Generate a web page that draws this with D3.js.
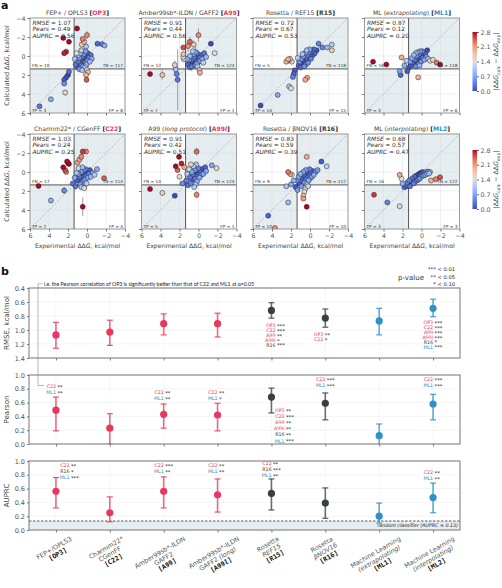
<!DOCTYPE html>
<html><head><meta charset="utf-8">
<script src="https://cdn.jsdelivr.net/npm/d3@7"></script>
<style>body{margin:0;background:#fff}svg{display:block}</style>
</head><body>
<script>
// ---------------- DATA ----------------
const panelCodes  = ["OP3","A99","R15","ML1","C22","A99l","R16","ML2"];
const panelTitles = ["FEP+ / OPLS3","Amber99sb*-ILDN / GAFF2","Rosetta / REF15","ML (_extrapolating_)","Charmm22* / CGenFF","A99 (_long protocol_)","Rosetta / βNOV16","ML (_interpolating_)"];
const panelRMSE  = ["1.07","0.91","0.72","0.87","1.03","0.91","0.83","0.68"];
const panelPears = ["0.49","0.44","0.67","0.12","0.24","0.42","0.59","0.57"];
const panelAUPRC = ["0.56","0.56","0.53","0.20","0.25","0.51","0.39","0.47"];
const panelFN = [10,12,5,16,17,14,9,16];
const panelTN = [117,124,118,118,114,124,112,122];
const panelTP = [3,7,14,3,2,5,10,3];
const panelFP = [8,1,15,6,4,1,10,3];
const scatterTicks = [-4,-2,0,2,4,6];
const threshold = 1.36;

// [experimental ΔΔG, calculated ΔΔG, error]
const ptsOP3 = [[5.0,5.3,0],[3.8,4.55,0],[2.3,3.85,0.3],[2.4,2.9,0],[2.4,2.5,0],[2.2,2.25,0],[2.0,2.0,0],[1.9,1.65,0],
[1.05,-2.9,0.3],[2.5,-1.9,0],[1.9,-1.5,0],[2.2,-0.45,0],[2.4,-0.3,0],[0.0,-2.2,0.4],
[0.45,-1.8,0],[0.3,-1.5,0],[0.55,-1.2,0],[0.1,-1.0,0],[-1.1,-1.3,0],[-1.6,-1.25,0],[-1.85,-1.1,0],
[0.1,2.0,0.2],[0.05,2.5,0.3],[-0.1,1.7,0],[0.0,1.45,0],
[1.2,0.9,0],[1.0,1.2,0],[0.9,0.6,0],[0.8,0.2,0],[0.7,0.9,0],[0.6,0.4,0],[0.5,0.0,0],[0.45,0.7,0],[0.4,1.1,0],[0.35,0.3,0],[0.3,-0.2,0],[0.25,0.6,0],[0.2,0.2,0],[0.15,-0.5,0],[0.1,0.4,0],[0.05,0.9,0],[0.0,0.0,0],[-0.05,0.5,0],[-0.1,-0.3,0],[-0.2,0.2,0],[-0.3,0.6,0],[-0.4,-0.1,0],[1.3,0.3,0],[1.1,-0.3,0],[0.8,1.4,0],[0.6,-0.6,0],[-0.5,0.3,0],[0.9,-0.1,0],[0.2,1.2,0],[0.5,1.5,0],[0.7,-0.3,0],[0.35,0.0,0],[0.15,0.7,0],[-0.15,0.1,0],[0.6,1.0,0]];
const ptsA99 = [[5.1,1.9,0],[3.8,2.0,0.5],[1.6,-0.9,0],[1.1,-1.05,0.6],[0.0,-2.2,0.7],[-1.3,-1.3,0],[-1.7,-0.3,0],
[1.6,-0.2,0],[1.6,0.1,0],[1.55,0.35,0],[2.5,0.95,0.5],[2.4,1.4,0.4],[2.3,1.9,0],[2.2,2.5,3.2],
[-0.1,1.5,0],[-0.15,1.75,0.3],[0.9,-1.5,0.5],[0.5,-1.2,0.4],
[1.1,0.9,0],[1.0,0.4,0.4],[0.9,0.0,0],[0.8,0.7,0],[0.7,1.1,0.5],[0.6,0.3,0],[0.5,-0.2,0],[0.45,0.6,0],[0.4,1.0,0],[0.35,0.2,0],[0.3,-0.4,0.6],[0.25,0.5,0],[0.2,0.1,0],[0.15,0.8,0],[0.1,0.3,0],[0.05,-0.1,0],[0.0,0.6,0],[-0.1,0.2,0],[-0.2,0.5,0],[-0.3,-0.1,0],[-0.4,0.3,0],[-0.6,-0.3,0],[-0.8,0.1,0],[0.9,1.2,0],[1.2,0.3,0],[0.6,-0.5,0],[0.3,0.9,0],[0.1,1.1,0],[-0.5,0.7,0],[0.7,0.5,0],[0.45,0.1,0],[0.15,-0.3,0]];
const ptsR15 = [[5.2,5.2,0],[3.4,4.1,0],[2.2,3.2,0],[2.0,3.4,0],[1.8,2.2,0],[1.7,1.9,0],[1.6,1.5,0],[2.3,0.5,0],[2.1,0.3,0],[1.9,0.6,0],[2.5,0.6,0],[2.3,0.35,0],[0.5,2.5,0],[0.3,2.3,0],[-0.9,-1.3,0],[-2.3,-1.2,0],[-2.3,-0.6,0],[-1.8,-0.9,0],[-1.3,-0.9,0],
[1.2,1.0,0],[1.1,0.6,0],[1.0,1.2,0],[0.9,0.3,0],[0.8,0.8,0],[0.7,0.0,0],[0.6,0.5,0],[0.5,-0.3,0],[0.45,0.9,0],[0.4,0.2,0],[0.35,-0.6,0],[0.3,0.4,0],[0.25,-0.1,0],[0.2,0.7,0],[0.15,-0.4,0],[0.1,0.1,0],[0.05,-0.7,0],[0.0,-0.2,0],[-0.1,0.3,0],[-0.2,-0.5,0],[-0.3,-0.1,0],[-0.4,-0.7,0],[-0.5,-0.3,0],[-0.7,-0.6,0],[0.8,-0.2,0],[0.6,1.1,0],[1.3,0.2,0],[0.0,-0.5,0],[-0.15,0.0,0],[0.4,-0.4,0]];
const ptsML1 = [[5.1,0.6,0],[3.7,0.9,0],[2.1,0.15,0],[2.3,1.6,0],[2.2,2.0,0],[1.3,1.2,0],[1.5,1.6,0],[-0.6,-0.6,0],[-1.6,0.7,0],[-1.95,0.9,0],[0.35,2.25,0],[1.8,1.0,0],[1.6,0.5,0],[-1.2,0.4,0],
[1.2,0.6,0],[1.1,1.0,0],[1.0,0.2,0],[0.9,0.7,0],[0.8,-0.1,0],[0.7,0.4,0],[0.6,1.1,0],[0.5,0.0,0],[0.45,0.5,0],[0.4,-0.4,0],[0.35,0.2,0],[0.3,0.8,0],[0.25,-0.2,0],[0.2,0.3,0],[0.15,-0.5,0],[0.1,0.1,0],[0.05,0.6,0],[0.0,-0.3,0],[-0.1,0.2,0],[-0.2,-0.1,0],[-0.3,0.4,0],[-0.4,-0.2,0],[-0.5,0.1,0],[-0.7,0.3,0],[-0.9,0.5,0],[0.6,-0.3,0],[0.2,1.0,0],[-0.1,-0.5,0],[0.8,0.9,0],[0.3,0.0,0]];
const ptsC22 = [[5.1,1.47,0.2],[3.8,3.0,0.3],[2.4,1.95,0.4],[2.1,-1.1,0.3],[2.0,-0.95,0],[1.9,-0.85,0],[2.5,-0.5,0],[2.3,-0.2,0],[2.2,0.0,0],[0.45,-2.15,0.3],[0.1,-2.15,0],[0.45,3.65,1.0],[-1.8,0.65,0],[-1.05,-0.3,0],[0.6,-1.6,0],[0.8,-1.3,0],[1.0,-1.0,0],
[1.5,1.2,0],[1.3,0.6,0],[1.2,1.5,0.4],[1.1,0.1,0],[1.0,0.9,0],[0.9,-0.4,0],[0.8,0.5,0],[0.7,1.3,0],[0.6,0.0,0],[0.55,0.7,0],[0.5,-0.5,0],[0.45,0.3,0],[0.4,1.0,0],[0.35,-0.2,0],[0.3,0.5,0],[0.25,0.1,0],[0.2,0.8,0],[0.15,-0.3,0],[0.1,0.4,0],[0.05,1.2,0.5],[0.0,0.0,0],[-0.1,0.6,0],[-0.2,0.2,0],[-0.3,-0.2,0],[-0.4,0.5,0],[-0.6,0.1,0],[-0.8,0.3,0],[0.3,1.7,0],[0.6,1.6,0],[0.9,0.2,0]];
const ptsA99l = [[5.1,1.8,0],[3.8,2.2,0.3],[2.5,2.5,0],[2.05,-1.6,0.3],[0.2,-2.15,0.4],[2.4,-0.6,0],[2.2,-0.2,0],[2.0,0.5,0],[1.7,1.2,0],[0.2,2.4,0.4],[-1.4,-0.7,0],[-1.9,-0.4,0],[1.8,-0.9,0],[1.5,-0.5,0],
[1.3,0.9,0],[1.2,0.2,0],[1.1,1.4,0],[1.0,-0.3,0],[0.9,0.6,0],[0.8,1.2,0],[0.7,0.0,0],[0.6,0.8,0],[0.55,-0.6,0],[0.5,0.4,0],[0.45,1.6,0],[0.4,-0.2,0],[0.35,0.7,0],[0.3,0.1,0],[0.25,-0.8,0],[0.2,0.5,0],[0.15,1.0,0],[0.1,-0.1,0],[0.05,0.3,0],[0.0,-0.4,0],[-0.1,0.6,0],[-0.2,0.0,0],[-0.3,0.3,0],[-0.4,-0.3,0],[-0.5,0.2,0],[-0.7,-0.5,0],[-0.8,-0.1,0],[0.8,-0.8,0],[0.3,1.3,0],[0.6,0.3,0]];
const ptsR16 = [[4.4,4.6,0],[3.7,5.9,0],[2.3,3.2,0],[0.35,3.65,0],[2.3,0.0,0],[2.1,0.2,0],[1.9,0.3,0],[0.35,-1.6,0],[-1.2,-1.1,0],[-1.75,-0.6,0],[0.7,2.5,0],[0.7,2.8,0],[2.5,1.5,0],[2.0,1.3,0],[1.7,0.9,0],
[1.5,1.6,0],[1.4,0.9,0],[1.3,1.9,0],[1.2,0.5,0],[1.1,1.2,0],[1.0,0.2,0],[0.9,1.5,0],[0.8,0.7,0],[0.7,0.0,0],[0.6,1.1,0],[0.55,0.4,0],[0.5,1.8,0],[0.45,-0.2,0],[0.4,0.8,0],[0.35,0.3,0],[0.3,1.3,0],[0.25,0.6,0],[0.2,0.0,0],[0.15,0.9,0],[0.1,0.4,0],[0.05,-0.3,0],[0.0,0.7,0],[-0.1,0.1,0],[-0.2,0.5,0],[-0.3,-0.1,0],[-0.4,0.3,0],[-0.6,0.0,0],[-0.8,-0.2,0],[0.6,2.1,0],[0.2,1.5,0]];
const ptsML2 = [[5.0,2.4,0],[3.6,3.2,0],[2.3,3.6,0],[2.3,0.3,0],[2.1,0.7,0],[2.0,1.2,0],[-1.95,0.55,0],[-1.5,0.75,0],[-1.0,0.9,0],[1.8,1.6,0],[1.6,1.5,0],
[1.6,1.4,0],[1.5,1.1,0],[1.4,1.3,0],[1.3,0.9,0],[1.2,1.2,0],[1.1,1.0,0],[1.0,0.7,0],[0.9,1.1,0],[0.8,0.8,0],[0.75,0.5,0],[0.7,1.0,0],[0.6,0.7,0],[0.55,0.4,0],[0.5,0.9,0],[0.45,0.6,0],[0.4,0.3,0],[0.35,0.8,0],[0.3,0.5,0],[0.25,0.2,0],[0.2,0.7,0],[0.15,0.4,0],[0.1,0.1,0],[0.05,0.5,0],[0.0,0.3,0],[-0.1,0.0,0],[-0.2,0.4,0],[-0.3,0.1,0],[-0.4,0.3,0],[-0.5,0.0,0],[-0.6,0.2,0],[-0.7,-0.05,0],[-0.8,0.15,0],[-0.9,0.0,0],[1.2,1.5,0],[0.8,1.2,0]];
const panelPoints = [ptsOP3, ptsA99, ptsR15, ptsML1, ptsC22, ptsA99l, ptsR16, ptsML2];
const colorbarTicks = [0.0,0.7,1.4,2.1,2.8];

// Panel b
const methods = ["OP3","C22","A99","A99l","R15","R16","ML1","ML2"];
const methodLine1 = ["FEP+/OPLS3","Charmm22*","Amber99sb*-ILDN","Amber99sb*-ILDN","Rosetta","Rosetta","Machine Learning","Machine Learning"];
const methodLine2 = ["","CGenFF","GAFF2","GAFF2 _(long)_","_REF15_","_βNOV16_","_(extrapolating)_","_(interpolating)_"];
const rmseVal  = [1.07,1.03,0.91,0.91,0.72,0.83,0.87,0.69];
const rmseLo   = [0.89,0.86,0.77,0.76,0.61,0.70,0.69,0.56];
const rmseHi   = [1.26,1.22,1.07,1.10,0.83,0.96,1.07,0.81];
const pearsVal = [0.49,0.23,0.43,0.42,0.68,0.59,0.12,0.58];
const pearsLo  = [0.19,0.00,0.23,0.19,0.45,0.35,-0.06,0.35];
const pearsHi  = [0.68,0.44,0.58,0.59,0.81,0.74,0.29,0.72];
const auprcVal = [0.56,0.25,0.56,0.51,0.53,0.39,0.20,0.47];
const auprcLo  = [0.32,0.12,0.32,0.26,0.29,0.17,0.10,0.25];
const auprcHi  = [0.76,0.48,0.77,0.74,0.74,0.61,0.39,0.68];
const randomAUPRC = 0.13;
const rmseTicks = [0.4,0.6,0.8,1.0,1.2,1.4];
const unitTicks = [0.0,0.2,0.4,0.6,0.8,1.0];
const sigRMSE = [
 {m:"R15", items:[["OP3","***"],["C22","***"],["A99","**"],["A99l","*"],["R16","***"]]},
 {m:"R16", items:[["OP3","**"],["C22","*"]]},
 {m:"ML2", items:[["OP3","***"],["C22","***"],["A99","***"],["A99l","***"],["R16","*"],["ML1","***"]]}];
const sigPears = [
 {m:"OP3", items:[["C22","**"],["ML1","**"]]},
 {m:"A99", items:[["C22","**"],["ML1","**"]]},
 {m:"A99l", items:[["C22","**"],["ML1","*"]]},
 {m:"R15", items:[["OP3","**"],["C22","***"],["A99","**"],["A99l","**"],["R16","**"],["ML1","***"]]},
 {m:"R16", items:[["C22","***"],["ML1","***"]]},
 {m:"ML2", items:[["C22","***"],["ML1","***"]]}];
const sigAUPRC = [
 {m:"OP3", items:[["C22","**"],["R16","*"],["ML1","***"]]},
 {m:"A99", items:[["C22","***"],["ML1","**"]]},
 {m:"A99l", items:[["C22","**"],["ML1","**"]]},
 {m:"R15", items:[["C22","**"],["R16","***"],["ML1","**"]]},
 {m:"ML2", items:[["C22","**"],["ML1","**"]]}];
const pLegend = [["***","< 0.01"],["**","< 0.05"],["*","< 0.10"]];
const noteText = "i.e. the Pearson correlation of OP3 is significantly better than that of C22 and ML1 at α=0.05";

// ---------------- DRAW ----------------
const W=502,H=588;
const FONT="DejaVu Sans";
const svg=d3.select("body").append("svg").attr("width",W).attr("height",H).style("font-family",FONT);
const colPink="#e8385f", colDark="#394040", colBlue="#2e92c4";
const codeColor=c=>c.startsWith("R1")?colDark:(c.startsWith("ML")?colBlue:colPink);
const shade="#e6edf0";
const cmap=d3.scaleLinear().domain([0,0.35,0.7,1.05,1.4,1.75,2.1,2.45,2.8])
  .range(["#3b4cc0","#5d7ce6","#82a6fb","#aac7fd","#dcdddd","#f5c4ac","#f49a7b","#dc5d4a","#b40426"]).clamp(true);

function addRich(sel, str, baseItalic){ // "_" toggles italic
  const parts=str.split("_");
  parts.forEach((p,k)=>{ if(p.length) sel.append("tspan").text(p).attr("font-style",(k%2===1)!==!!baseItalic?"italic":null); });
}
function addCode(sel, code){
  const c=codeColor(code);
  sel.append("tspan").text("[").attr("fill","#111").attr("font-weight","bold");
  if(code==="A99l"){
    sel.append("tspan").text("A99").attr("fill",c).attr("font-weight","bold");
    sel.append("tspan").text("l").attr("fill",c).attr("font-weight","bold").attr("font-style","italic");
  } else sel.append("tspan").text(code).attr("fill",c).attr("font-weight","bold");
  sel.append("tspan").text("]").attr("fill","#111").attr("font-weight","bold");
}

svg.append("text").attr("x",1).attr("y",9).text("a").attr("font-size",11).attr("font-weight","bold").attr("fill","#111");

const panelLeft=[30,141.5,253,364.5], rowTop=[18,134], S=95;
panelCodes.forEach((code,i)=>{
  const col=i%4,row=Math.floor(i/4);
  const L=panelLeft[col],T=rowTop[row];
  const x=d3.scaleLinear().domain([6,-4]).range([L,L+S]);
  const y=d3.scaleLinear().domain([-4,6]).range([T,T+S]);
  const g=svg.append("g");
  g.append("rect").attr("x",L).attr("y",T).attr("width",S).attr("height",S).attr("fill","#fff");
  g.append("rect").attr("x",x(threshold)).attr("y",y(-4)).attr("width",x(-4)-x(threshold)).attr("height",y(threshold)-y(-4)).attr("fill",shade);
  g.append("rect").attr("x",x(6)).attr("y",y(threshold)).attr("width",x(threshold)-x(6)).attr("height",y(6)-y(threshold)).attr("fill",shade);
  scatterTicks.forEach(t=>{
    g.append("line").attr("x1",x(t)).attr("x2",x(t)).attr("y1",T).attr("y2",T+S).attr("stroke","#d8dcde").attr("stroke-width",0.5);
    g.append("line").attr("y1",y(t)).attr("y2",y(t)).attr("x1",L).attr("x2",L+S).attr("stroke","#d8dcde").attr("stroke-width",0.5);
  });
  g.append("line").attr("x1",x(6)).attr("y1",y(6)).attr("x2",x(-4)).attr("y2",y(-4)).attr("stroke","#999").attr("stroke-width",0.6).attr("stroke-dasharray","2,1.5");
  g.append("line").attr("x1",x(threshold)).attr("x2",x(threshold)).attr("y1",T).attr("y2",T+S).attr("stroke","#555").attr("stroke-width",1);
  g.append("line").attr("y1",y(threshold)).attr("y2",y(threshold)).attr("x1",L).attr("x2",L+S).attr("stroke","#555").attr("stroke-width",1);
  const pts=panelPoints[i].map(p=>({e:p[0],c:p[1],err:p[2],d:Math.abs(p[1]-p[0])})).sort((a,b)=>a.d-b.d);
  const clip="clip"+i;
  svg.append("clipPath").attr("id",clip).append("rect").attr("x",L).attr("y",T).attr("width",S).attr("height",S);
  const pg=g.append("g").attr("clip-path",`url(#${clip})`);
  pg.selectAll("line.err").data(pts.filter(p=>p.err>0)).join("line")
    .attr("x1",p=>x(p.e)).attr("x2",p=>x(p.e)).attr("y1",p=>y(p.c-p.err)).attr("y2",p=>y(p.c+p.err))
    .attr("stroke","#999").attr("stroke-width",1.2).attr("opacity",0.8);
  pg.selectAll("circle").data(pts).join("circle").attr("cx",p=>x(p.e)).attr("cy",p=>y(p.c)).attr("r",2.5)
    .attr("fill",p=>cmap(p.d)).attr("stroke","#222").attr("stroke-width",0.5);
  g.append("rect").attr("x",L).attr("y",T).attr("width",S).attr("height",S).attr("fill","none").attr("stroke","#888").attr("stroke-width",0.8);
  // axes
  const ax=d3.axisBottom(x).tickValues(scatterTicks).tickSize(2.5).tickPadding(2).tickFormat(row===1?d3.format("d"):()=> "");
  const axg=g.append("g").attr("transform",`translate(0,${T+S})`).call(ax);
  const ay=d3.axisLeft(y).tickValues(scatterTicks).tickSize(2.5).tickPadding(2).tickFormat(col===0?d3.format("d"):()=> "");
  const ayg=g.append("g").attr("transform",`translate(${L},0)`).call(ay);
  [axg,ayg].forEach(a=>{a.select(".domain").remove();a.selectAll("line").attr("stroke","#777");a.selectAll("text").attr("fill","#555").attr("font-size",6.3).attr("font-family",FONT);});
  // title
  const tt=g.append("text").attr("x",L+S/2).attr("y",T-3.5).attr("text-anchor","middle").attr("font-size",6.1).attr("fill","#444");
  addRich(tt,panelTitles[i]); tt.append("tspan").text("  "); addCode(tt,code);
  // stats
  const st=[["RMSE",panelRMSE[i]],["Pears",panelPears[i]],["AUPRC",panelAUPRC[i]]];
  st.forEach((s,k)=>{
    const t=g.append("text").attr("x",L+2.5).attr("y",T+7+k*6.3).attr("font-size",5.9).attr("fill","#333");
    t.append("tspan").text(s[0]).attr("font-style","italic"); t.append("tspan").text(" = "+s[1]);
  });
  const cnt=(tx,ty,anchor,str)=>g.append("text").attr("x",tx).attr("y",ty).attr("text-anchor",anchor).attr("font-size",4.3).attr("fill","#333").text(str);
  cnt(L+2,y(threshold)-1.5,"start","FN = "+panelFN[i]);
  cnt(L+S-2,y(threshold)-1.5,"end","TN = "+panelTN[i]);
  cnt(L+2,T+S-1.5,"start","TP = "+panelTP[i]);
  cnt(L+S-2,T+S-1.5,"end","FP = "+panelFP[i]);
  if(row===1){
    const xl=g.append("text").attr("x",L+S/2).attr("y",T+S+18.5).attr("text-anchor","middle").attr("font-size",6.1).attr("fill","#444");
    xl.append("tspan").text("Experimental ΔΔ"); xl.append("tspan").text("G").attr("font-style","italic"); xl.append("tspan").text(", kcal/mol");
  }
  if(col===0){
    const yl=g.append("text").attr("transform",`translate(9,${T+S/2}) rotate(-90)`).attr("text-anchor","middle").attr("font-size",6.4).attr("fill","#444");
    yl.append("tspan").text("Calculated ΔΔ"); yl.append("tspan").text("G").attr("font-style","italic"); yl.append("tspan").text(", kcal/mol");
  }
});

// colorbars
const defs=svg.append("defs");
const grad=defs.append("linearGradient").attr("id","cbg").attr("x1",0).attr("x2",0).attr("y1",1).attr("y2",0);
d3.range(0,1.0001,0.125).forEach(f=>grad.append("stop").attr("offset",f).attr("stop-color",cmap(f*2.8)));
[[32,91],[150,209]].forEach(([y0,y1])=>{
  const cy=d3.scaleLinear().domain([0,2.8]).range([y1,y0]);
  svg.append("rect").attr("x",472.5).attr("y",y0).attr("width",4.5).attr("height",y1-y0).attr("fill","url(#cbg)");
  const a=svg.append("g").attr("transform","translate(477,0)").call(d3.axisRight(cy).tickValues(colorbarTicks).tickSize(2).tickPadding(1.5).tickFormat(d3.format(".1f")));
  a.select(".domain").remove(); a.selectAll("line").attr("stroke","#666");
  a.selectAll("text").attr("fill","#555").attr("font-size",6.3).attr("font-family",FONT);
  const lt=svg.append("text").attr("transform",`translate(498,${(y0+y1)/2}) rotate(-90)`).attr("text-anchor","middle").attr("font-size",6.3).attr("fill","#444");
  lt.append("tspan").text("|ΔΔ"); lt.append("tspan").text("G").attr("font-style","italic");
  lt.append("tspan").text("calc").attr("font-size",4.5).attr("dy",1.5);
  lt.append("tspan").text(" − ΔΔ").attr("dy",-1.5); lt.append("tspan").text("G").attr("font-style","italic");
  lt.append("tspan").text("exp").attr("font-size",4.5).attr("dy",1.5); lt.append("tspan").text("|").attr("dy",-1.5);
});

// ---------------- Panel b ----------------
svg.append("text").attr("x",1).attr("y",275).text("b").attr("font-size",11).attr("font-weight","bold").attr("fill","#111");
const bx=d3.scalePoint().domain(methods).range([29,460]).padding(0.5);
const bL=29,bR=460;
const metrics=[
 {name:"RMSE, kcal/mol",val:rmseVal,lo:rmseLo,hi:rmseHi,y:d3.scaleLinear().domain([0.4,1.4]).range([288,358]),ticks:rmseTicks,sig:sigRMSE,
  lay:{R15:[327,4.9,4],R16:[336,4.9,-2],ML2:[324,4.9,0]}},
 {name:"Pearson",val:pearsVal,lo:pearsLo,hi:pearsHi,y:d3.scaleLinear().domain([0,1]).range([444,375]),ticks:unitTicks,sig:sigPears,
  lay:{OP3:[388,6,0],A99:[394,6,0],A99l:[394,6,0],R15:[412,6.1,13],R16:[381,6,0],ML2:[381,6,0]}},
 {name:"AUPRC",val:auprcVal,lo:auprcLo,hi:auprcHi,y:d3.scaleLinear().domain([0,1]).range([530,461]),ticks:unitTicks,sig:sigAUPRC,
  lay:{OP3:[467,6,13.5],A99:[467,6,0],A99l:[467,6,0],R15:[465,6,0],ML2:[474,6,0]},random:true}
];
metrics.forEach((M,mi)=>{
  const y=M.y; const [ya,yb]=d3.extent(y.range());
  const g=svg.append("g");
  g.append("rect").attr("x",bL).attr("y",ya).attr("width",bR-bL).attr("height",yb-ya).attr("fill","#fff");
  if(M.random){
    g.append("rect").attr("x",bL).attr("y",y(randomAUPRC)).attr("width",bR-bL).attr("height",yb-y(randomAUPRC)).attr("fill",shade);
  }
  M.ticks.forEach(t=>g.append("line").attr("x1",bL).attr("x2",bR).attr("y1",y(t)).attr("y2",y(t)).attr("stroke","#ececec").attr("stroke-width",0.6));
  methods.forEach(m=>g.append("line").attr("x1",bx(m)).attr("x2",bx(m)).attr("y1",ya).attr("y2",yb).attr("stroke","#ececec").attr("stroke-width",0.6).attr("stroke-dasharray","2,1"));
  if(M.random){
    g.append("line").attr("x1",bL).attr("x2",bR).attr("y1",y(randomAUPRC)).attr("y2",y(randomAUPRC)).attr("stroke","#333").attr("stroke-width",0.8).attr("stroke-dasharray","2.5,1.5");
    g.append("text").attr("x",bR-2).attr("y",y(randomAUPRC)+6).attr("text-anchor","end").attr("font-size",4.8).attr("fill","#222").attr("font-style","italic")
      .text("random classifier (AUPRC = 0.13)");
  }
  const clip="bclip"+mi;
  svg.append("clipPath").attr("id",clip).append("rect").attr("x",bL).attr("y",ya).attr("width",bR-bL).attr("height",yb-ya);
  const eg=g.append("g").attr("clip-path",`url(#${clip})`);
  methods.forEach((m,k)=>{
    const c=codeColor(m), cx=bx(m);
    eg.append("line").attr("x1",cx).attr("x2",cx).attr("y1",y(M.lo[k])).attr("y2",y(M.hi[k])).attr("stroke",c).attr("stroke-width",1.6).attr("opacity",0.75);
    [M.lo[k],M.hi[k]].forEach(v=>eg.append("line").attr("x1",cx-3).attr("x2",cx+3).attr("y1",y(v)).attr("y2",y(v)).attr("stroke",c).attr("stroke-width",1.2).attr("opacity",0.85));
    eg.append("circle").attr("cx",cx).attr("cy",y(M.val[k])).attr("r",3.6).attr("fill",c);
  });
  g.append("rect").attr("x",bL).attr("y",ya).attr("width",bR-bL).attr("height",yb-ya).attr("fill","none").attr("stroke","#777").attr("stroke-width",1);
  const ay=g.append("g").attr("transform",`translate(${bL},0)`).call(d3.axisLeft(y).tickValues(M.ticks).tickSize(2).tickPadding(2).tickFormat(d3.format(".1f")));
  ay.select(".domain").remove(); ay.selectAll("line").attr("stroke","#777");
  ay.selectAll("text").attr("fill","#555").attr("font-size",6.5).attr("font-family",FONT);
  const ax=g.append("g").attr("transform",`translate(0,${yb})`).call(d3.axisBottom(bx).tickSize(2.5).tickFormat(()=>""));
  ax.select(".domain").remove(); ax.selectAll("line").attr("stroke","#777");
  g.append("text").attr("transform",`translate(9,${(ya+yb)/2}) rotate(-90)`).attr("text-anchor","middle").attr("font-size",7).attr("fill","#444").text(M.name);
  // significance
  M.sig.forEach(s=>{
    const [y0,lh,dx]=M.lay[s.m]; const cx=bx(s.m)+dx;
    s.items.forEach((it,k)=>{
      const t=g.append("text").attr("x",cx).attr("y",y0+k*lh).attr("text-anchor","end").attr("font-size",4.7);
      if(it[0]==="A99l"){t.append("tspan").text("A99").attr("fill",codeColor(it[0]));t.append("tspan").text("l").attr("font-style","italic").attr("fill",codeColor(it[0]));}
      else t.append("tspan").text(it[0]).attr("fill",codeColor(it[0]));
      g.append("text").attr("x",cx+1.5).attr("y",y0+k*lh+0.8).attr("font-size",5.2).attr("fill","#111").text(it[1]);
    });
  });
});
// note & connector
svg.append("text").attr("x",44).attr("y",285.5).attr("font-size",5.2).attr("fill","#222").attr("font-family","Lato").text(noteText);
svg.append("path").attr("d","M42.5,283.8 H38 V385.5 H44").attr("fill","none").attr("stroke","#888").attr("stroke-width",0.6);
// p-value legend
pLegend.forEach((p,k)=>{
  const t=svg.append("text").attr("x",455).attr("y",271+k*7.5).attr("text-anchor","end").attr("font-size",5.2).attr("fill","#222");
  t.append("tspan").text(p[0]+" "); t.append("tspan").text(p[1]);
});
svg.append("text").attr("x",411).attr("y",279.5).attr("text-anchor","middle").attr("font-size",7).attr("fill","#333").text("p-value");

// x labels for b
const rad=Math.PI/6, lh=7.2;
methods.forEach((m,k)=>{
  const lines=[methodLine1[k]]; if(methodLine2[k]) lines.push(methodLine2[k]);
  const g=svg.append("g");
  const tmp=[];
  lines.forEach((ln,j)=>{const t=g.append("text").attr("font-size",6.4).attr("fill","#555").attr("text-anchor","middle").attr("y",(j+0.8)*lh); addRich(t,ln); tmp.push(t);});
  const ct=g.append("text").attr("font-size",6.6).attr("font-family","DejaVu Sans Mono").attr("text-anchor","middle").attr("y",(lines.length+0.8)*lh);
  addCode(ct,m);
  ct.selectAll("tspan").attr("fill","#111");
  tmp.push(ct);
  const Wd=d3.max(tmp,t=>t.node().getComputedTextLength());
  const Hd=(lines.length+1)*lh;
  tmp.forEach(t=>t.attr("x",Wd/2));
  const c=Math.cos(rad),s=Math.sin(rad);
  const ox=bx(m)-(Wd*c+Hd*s)/2, oy=535+Wd*s;
  g.attr("transform",`translate(${ox},${oy}) rotate(-30)`);
});
</script>
</body></html>
